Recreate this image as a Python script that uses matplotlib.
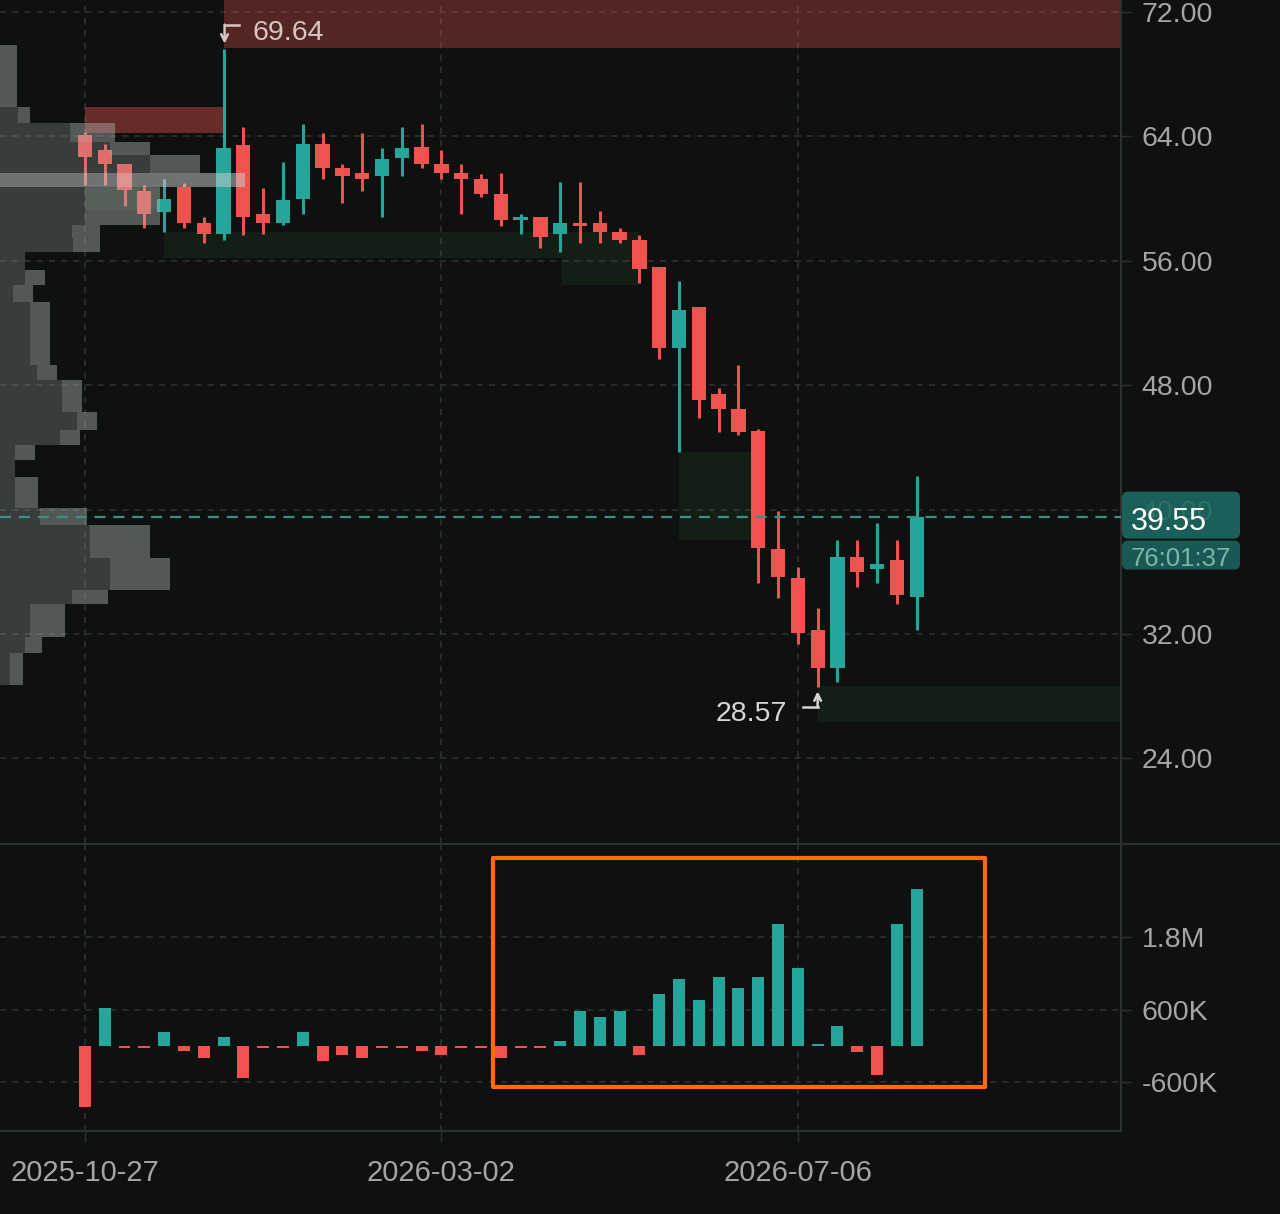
import numpy as np
import matplotlib
matplotlib.use('Agg')
import matplotlib.pyplot as plt
import matplotlib.transforms as mtransforms
from matplotlib.patches import Rectangle, FancyBboxPatch
from matplotlib.lines import Line2D

# weekly candles, first bar is the week of 2025-10-27
opens = [64.1, 63.1, 62.2, 60.5, 59.15, 60.75, 58.45, 57.7, 63.45, 59.0,
         58.45, 59.95, 63.5, 61.95, 61.65, 61.45, 62.6, 63.3, 62.2, 61.65,
         61.25, 60.3, 58.6, 58.8, 57.7, 58.45, 58.45, 57.85, 57.35, 55.6,
         50.4, 53.05, 47.45, 46.45, 45.05, 37.45, 35.6, 32.25, 29.8, 36.95,
         36.2, 36.75, 34.4]
highs = [64.3, 63.5, 62.2, 60.9, 61.25, 61.0, 58.8, 69.64, 64.6, 60.7,
         62.35, 64.8, 64.2, 62.25, 64.2, 63.25, 64.6, 64.8, 63.15, 62.2,
         61.6, 61.65, 59.0, 58.8, 61.05, 61.05, 59.2, 58.1, 57.65, 55.6,
         54.7, 53.05, 47.8, 49.3, 45.2, 39.9, 36.3, 33.7, 38.05, 38.05,
         39.15, 38.05, 42.15]
lows = [60.9, 60.9, 59.5, 58.1, 57.85, 58.1, 57.15, 57.35, 57.65, 57.7,
        58.3, 59.0, 61.25, 59.7, 60.5, 58.8, 61.45, 61.95, 61.25, 59.0,
        60.1, 58.25, 57.7, 56.8, 56.55, 57.15, 57.15, 57.15, 54.55, 49.7,
        43.7, 45.9, 45.0, 44.8, 35.3, 34.3, 31.35, 28.57, 28.9, 35.0,
        35.3, 33.9, 32.25]
closes = [62.7, 62.2, 60.55, 59.0, 59.95, 58.45, 57.7, 63.25, 58.8, 58.45,
          59.9, 63.5, 61.95, 61.45, 61.25, 62.55, 63.25, 62.2, 61.65, 61.25,
          60.3, 58.6, 58.72, 57.55, 58.45, 58.25, 57.85, 57.35, 55.45, 50.4,
          52.85, 47.05, 46.45, 45.0, 37.5, 35.65, 32.05, 29.8, 36.95, 36.0,
          36.5, 34.5, 39.55]

# lower panel, net volume in millions
flow = [-1.01, 0.62, -0.04, -0.04, 0.235, -0.09, -0.19, 0.14, -0.53, -0.04,
        -0.04, 0.235, -0.24, -0.15, -0.19, -0.04, -0.04, -0.09, -0.15, -0.04,
        -0.04, -0.19, -0.04, -0.04, 0.09, 0.575, 0.48, 0.575, -0.15, 0.855,
        1.10, 0.757, 1.14, 0.95, 1.14, 2.0, 1.28, 0.04, 0.335, -0.1,
        -0.48, 2.0, 2.58]

date_ticks = [0, 18, 36]
date_labels = ['2025-10-27', '2026-03-02', '2026-07-06']
price_ticks = [24, 32, 40, 48, 56, 64, 72]
flow_ticks = [-0.6, 0.6, 1.8]
flow_labels = ['-600K', '600K', '1.8M']

# supply / demand zones: bar index range and price range
zone_x0 = [7.0, 0.0, 0.0, 4.0, 24.1, 30.0, 37.0]
zone_x1 = [60.0, 7.0, 4.0, 28.0, 28.0, 33.85, 60.0]
zone_lo = [69.7, 64.22, 59.27, 56.18, 54.44, 38.05, 26.34]
zone_hi = [80.0, 65.89, 60.68, 57.85, 56.18, 43.70, 28.66]
zone_kind = ['supply_far', 'supply', 'demand', 'demand', 'demand', 'demand', 'demand']

# volume profile on the left: price bin edges, total and inner part
prof_edges = [69.88, 65.89, 64.86, 63.64, 62.80, 61.65, 60.75, 59.59, 58.30, 57.47,
              56.57, 55.41, 54.44, 53.35, 49.30, 48.33, 46.28, 45.12, 44.15, 43.19,
              42.10, 40.10, 39.01, 36.89, 34.83, 33.93, 31.81, 30.78, 28.72]
prof_total = [17, 30, 115, 150, 200, 245, 160, 160, 100, 100,
              25, 45, 33, 50, 57, 82, 97, 80, 35, 15,
              38, 87, 150, 170, 108, 65, 42, 23]
prof_inner = [0, 18, 70, 110, 150, 0, 85, 85, 72, 73,
              25, 25, 13, 30, 37, 62, 77, 60, 15, 15,
              15, 40, 90, 110, 72, 30, 25, 10]
poc_bin = 5

last_price = 39.55
countdown = '76:01:37'
hl_start, hl_end = 20.6, 45.45
hl_lo, hl_hi = -0.674, 3.09

BG = '#0e1110'
UP = '#26a69a'
DN = '#ef5350'
GRID = '#303432'
AXC = '#2c302e'
TXT = '#a3a6a4'
zone_style = {'supply_far': (DN, 0.31), 'supply': (DN, 0.40), 'demand': ('#4caf50', 0.09)}

plt.rcParams['font.family'] = ['Liberation Sans', 'DejaVu Sans']

W, H = 1280, 1214
fig = plt.figure(figsize=(W / 100, H / 100), dpi=100, facecolor=BG)
ax1 = fig.add_axes([0, 371 / H, 1121 / W, 843 / H])
ax2 = fig.add_axes([0, 83 / H, 1121 / W, 286 / H])

for ax in (ax1, ax2):
    ax.set_facecolor(BG)
    for s in ['left', 'top']:
        ax.spines[s].set_visible(False)
    for s in ['right', 'bottom']:
        ax.spines[s].set_color(AXC)
        ax.spines[s].set_linewidth(1.5)
    ax.yaxis.tick_right()
    ax.set_xticks(date_ticks)
    ax.grid(True, color=GRID, linestyle=(0, (4, 4)), lw=1.1)
    ax.set_axisbelow(True)
    ax.tick_params(axis='y', length=7, width=1, color=AXC, labelcolor=TXT,
                   labelsize=20.5, pad=8)

ax1.spines['bottom'].set_visible(False)
ax1.tick_params(axis='x', length=0, labelbottom=False)
ax2.tick_params(axis='x', length=8, width=1, color=AXC, labelcolor=TXT,
                labelsize=21, pad=12)
ax2.set_xticklabels(date_labels)

x = np.arange(len(opens))
o = np.array(opens)
c = np.array(closes)
cols = [UP if cc >= oo else DN for oo, cc in zip(opens, closes)]

# zones
for x0, x1, lo, hi, kind in zip(zone_x0, zone_x1, zone_lo, zone_hi, zone_kind):
    zc, za = zone_style[kind]
    ax1.add_patch(Rectangle((x0, lo), x1 - x0, hi - lo, color=zc, alpha=za, lw=0, zorder=1))

# candles
ax1.vlines(x, lows, highs, colors=cols, lw=2.2, zorder=3)
ax1.bar(x, np.maximum(np.abs(c - o), 0.2), bottom=np.minimum(o, c), width=0.72,
        color=cols, zorder=4)

# volume profile overlay
axp = ax1.twiny()
edges = np.array(prof_edges)
p_lo, p_hi = edges[1:], edges[:-1]
p_mid = (p_lo + p_hi) / 2
p_h = p_hi - p_lo
tot = np.array(prof_total, dtype=float)
inn = np.array(prof_inner, dtype=float)
m = np.arange(len(tot)) != poc_bin
axp.barh(p_mid[m], inn[m], height=p_h[m], left=0, color='#b4b9b6', alpha=0.26, lw=0)
axp.barh(p_mid[m], (tot - inn)[m], height=p_h[m], left=inn[m], color='#b4b9b6', alpha=0.42, lw=0)
axp.barh(p_mid[poc_bin], tot[poc_bin], height=p_h[poc_bin], left=0, color='#cfd3d1', alpha=0.5, lw=0)
axp.axhline(last_price, color='#3b8f86', lw=1.6, ls=(0, (5, 3.5)), zorder=5)
axp.set_xlim(0, 1121)
axp.axis('off')

# lower panel
fcols = [UP if v >= 0 else DN for v in flow]
ax2.bar(x, flow, width=0.6, color=fcols, zorder=3)
ax2.add_patch(Rectangle((hl_start, hl_lo), hl_end - hl_start, hl_hi - hl_lo, fill=False,
                        ec='#ff6a13', lw=3, zorder=6, joinstyle='round'))
ax2.set_yticks(flow_ticks)
ax2.set_yticklabels(flow_labels)

ax1.set_yticks(price_ticks)
ax1.set_yticklabels([f'{v:.2f}' for v in price_ticks])
ax1.set_xlim(-4.29, 52.32)
ax2.set_xlim(-4.29, 52.32)
ax1.set_ylim(18.56, 72.77)
ax2.set_ylim(-1.398, 3.306)

fig.add_artist(Line2D([0, 1], [1 - 844 / H] * 2, transform=fig.transFigure, color=AXC, lw=1.5))

ident = mtransforms.IdentityTransform()

# high / low markers
hi_i = int(np.argmax(highs))
lo_i = int(np.argmin(lows))
hx, hy = ax1.transData.transform((hi_i, highs[hi_i]))
lx, ly = ax1.transData.transform((lo_i, lows[lo_i]))
hcol = '#d9c6c3'
lcol = '#d4d7d5'
ax1.annotate('', xy=(hx + 1, hy + 5), xytext=(hx + 1, hy + 24), xycoords='figure pixels',
             textcoords='figure pixels', annotation_clip=False,
             arrowprops=dict(arrowstyle='->', color=hcol, lw=1.8, shrinkA=0, shrinkB=0,
                             mutation_scale=12))
fig.add_artist(Line2D([hx + 1, hx + 15], [hy + 24, hy + 24], transform=ident, color=hcol, lw=1.8))
fig.text(hx + 29, hy + 18.5, f'{highs[hi_i]:.2f}', transform=ident, ha='left',
         va='center_baseline', fontsize=20.5, color=hcol)

ax1.annotate('', xy=(lx, ly - 4), xytext=(lx, ly - 20), xycoords='figure pixels',
             textcoords='figure pixels', annotation_clip=False,
             arrowprops=dict(arrowstyle='->', color=lcol, lw=1.8, shrinkA=0, shrinkB=0,
                             mutation_scale=12))
fig.add_artist(Line2D([lx - 15, lx], [ly - 20, ly - 20], transform=ident, color=lcol, lw=1.8))
fig.text(lx - 31, ly - 24, f'{lows[lo_i]:.2f}', transform=ident, ha='right',
         va='center_baseline', fontsize=20.5, color=lcol)

# last price tag (the 40.00 axis label shows faintly through it, as in the app)
_, yp = ax1.transData.transform((0, last_price))
fig.add_artist(FancyBboxPatch((1122, yp - 22), 118, 47, boxstyle='round,pad=0,rounding_size=6',
                              transform=ident, fc='#1d6a61', ec='none', alpha=0.9, zorder=5))
fig.add_artist(FancyBboxPatch((1122, yp - 53), 118, 29, boxstyle='round,pad=0,rounding_size=6',
                              transform=ident, fc='#1a5953', ec='none', zorder=5))
fig.text(1131, yp - 2, f'{last_price:.2f}', transform=ident, ha='left', va='center_baseline',
         fontsize=22, color='white', zorder=6)
fig.text(1131, yp - 40, countdown, transform=ident, ha='left', va='center_baseline',
         fontsize=18.5, color='#7fb4ad', zorder=6)

fig.savefig('out.png', dpi=100, facecolor=BG)
